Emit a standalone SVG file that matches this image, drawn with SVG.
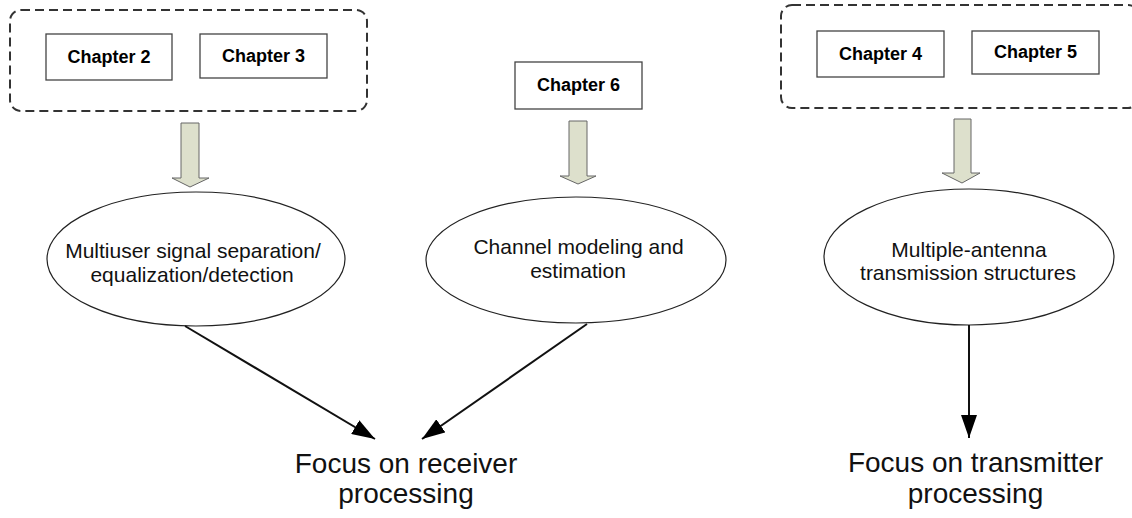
<svg xmlns="http://www.w3.org/2000/svg" width="1132" height="518" viewBox="0 0 1132 518">
<defs>
<style>
.grp{fill:none;stroke:#333;stroke-width:2;stroke-dasharray:9 5}
.ch{fill:#fff;stroke:#444;stroke-width:1.3}
.cht{font-family:"Liberation Sans",Arial,sans-serif;font-weight:bold;font-size:18px;fill:#000;text-anchor:middle}
.blk{fill:#dde0cc;stroke:#666;stroke-width:1}
.ell{fill:#fff;stroke:#222;stroke-width:1.2}
.et{font-family:"Liberation Sans",Arial,sans-serif;font-size:21px;fill:#111;text-anchor:middle}
.ft{font-family:"Liberation Sans",Arial,sans-serif;font-size:28px;fill:#111;text-anchor:middle}
.con{fill:none;stroke:#111;stroke-width:2;marker-end:url(#ah)}
</style>
<marker id="ah" markerUnits="userSpaceOnUse" markerWidth="24" markerHeight="16" refX="23" refY="8" orient="auto">
<path d="M0,0 L23,8 L0,16 Z" fill="#000"/>
</marker>
</defs>
<rect width="1132" height="518" fill="#fff"/>

<g id="group-left">
<rect class="grp" x="10" y="10" width="357" height="101" rx="11"/>
</g>
<g id="group-right">
<rect class="grp" x="781" y="5" width="358" height="103" rx="11"/>
</g>

<g id="ch2"><rect class="ch" x="46" y="34" width="126" height="46"/><text class="cht" x="109" y="63">Chapter 2</text></g>
<g id="ch3"><rect class="ch" x="200" y="34" width="127" height="44"/><text class="cht" x="263.5" y="62">Chapter 3</text></g>
<g id="ch6"><rect class="ch" x="515" y="62" width="127" height="47"/><text class="cht" x="578.5" y="91">Chapter 6</text></g>
<g id="ch4"><rect class="ch" x="817" y="31" width="127" height="46"/><text class="cht" x="880.5" y="60">Chapter 4</text></g>
<g id="ch5"><rect class="ch" x="972" y="31" width="127" height="43"/><text class="cht" x="1035.5" y="58">Chapter 5</text></g>

<g id="block-arrows">
<path class="blk" d="M181,123 H199 V178 H209 L190,187 L172,178 H181 Z"/>
<path class="blk" d="M569,121 H587 V176 H596 L578,184 L560,176 H569 Z"/>
<path class="blk" d="M954,119 H971 V173 H980 L962,183 L942,173 H954 Z"/>
</g>

<g id="e-multiuser">
<ellipse class="ell" cx="196" cy="259" rx="149" ry="67"/>
<text class="et" x="193" y="258">Multiuser signal separation/</text>
<text class="et" x="192" y="282">equalization/detection</text>
</g>
<g id="e-channel">
<ellipse class="ell" cx="576" cy="260" rx="150" ry="63"/>
<text class="et" x="578.5" y="254">Channel modeling and</text>
<text class="et" x="578" y="278">estimation</text>
</g>
<g id="e-antenna">
<ellipse class="ell" cx="969" cy="257" rx="145" ry="68"/>
<text class="et" x="969" y="257">Multiple-antenna</text>
<text class="et" x="968" y="280">transmission structures</text>
</g>

<g id="t-receiver">
<text class="ft" x="406" y="473">Focus on receiver</text>
<text class="ft" x="406" y="503">processing</text>
</g>
<g id="t-transmitter">
<text class="ft" x="975.5" y="472">Focus on transmitter</text>
<text class="ft" x="975.5" y="503">processing</text>
</g>

<g id="connectors">
<line class="con" x1="185" y1="326" x2="375" y2="439"/>
<line class="con" x1="587" y1="324" x2="422" y2="439"/>
<line class="con" x1="969" y1="325" x2="969" y2="438"/>
</g>
</svg>
